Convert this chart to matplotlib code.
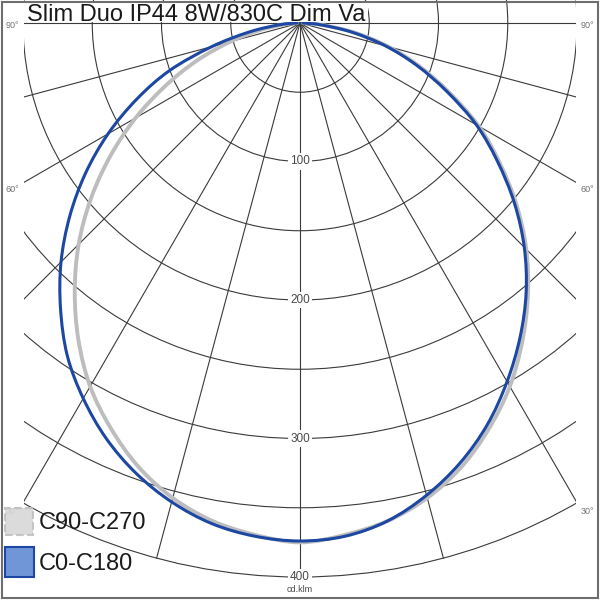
import numpy as np
import matplotlib
matplotlib.use('Agg')
import matplotlib.pyplot as plt
from matplotlib.patches import Circle, Rectangle, PathPatch
from matplotlib.path import Path

plt.rcParams['font.family'] = ['Liberation Sans', 'DejaVu Sans']

title = 'Slim Duo IP44 8W/830C Dim Va'
unit_label = 'cd.klm'

# gamma angles (deg from nadir) and intensities in cd/klm
angles = [0, 5, 10, 15, 20, 25, 30, 35, 40, 45, 50, 55, 60, 65, 70, 75, 80, 85, 90]
c0 = [374, 372, 365, 353, 338, 320, 299, 277, 254, 229, 202, 174, 147, 117, 90, 64, 38, 15, 2]
c180 = [374, 372, 367, 358, 346, 331, 313, 293, 269, 244, 217, 189, 160, 130, 100, 66, 37, 15, 2]
c90 = [375, 371, 365, 355, 341, 323, 303, 280, 256, 231, 204, 176, 149, 119, 92, 66, 40, 16, 2]
c270 = [375, 371, 365, 355, 341, 323, 303, 279, 253, 226, 197, 167, 137, 107, 79, 52, 29, 11, 2]

ring_values = [50, 100, 150, 200, 250, 300, 350, 400]
ring_labels = [100, 200, 300, 400]
grid_angles = [-90, -75, -60, -45, -30, -15, 0, 15, 30, 45, 60, 75, 90]
angle_labels = [90, 60, 30]

legend_names = ['C90-C270', 'C0-C180']


def curve_points(ang, right_vals, left_vals):
    a = np.radians(ang)
    r = np.array(right_vals, dtype=float)
    l = np.array(left_vals, dtype=float)
    x = np.concatenate([-(l * np.sin(a))[::-1], (r * np.sin(a))[1:]])
    y = np.concatenate([-(l * np.cos(a))[::-1], -(r * np.cos(a))[1:]])
    return np.column_stack([x, y])


def smooth_path(pts):
    # Catmull-Rom through the points, drawn as cubic bezier segments
    p = np.vstack([pts[0], pts, pts[-1]])
    verts = [pts[0]]
    codes = [Path.MOVETO]
    for i in range(1, len(p) - 2):
        c1 = p[i] + (p[i + 1] - p[i - 1]) / 6.0
        c2 = p[i + 1] - (p[i + 2] - p[i]) / 6.0
        verts += [c1, c2, p[i + 1]]
        codes += [Path.CURVE4] * 3
    return Path(verts, codes)


def plot_polar_diagram():
    fig = plt.figure(figsize=(6, 6), dpi=100)
    ax = fig.add_axes([0, 0, 1, 1])
    ax.set_xlim(-216.6, 216.6)
    ax.set_ylim(-416.6, 16.6)
    ax.axis('off')

    grid_col = '#3a3a3a'
    clip = Rectangle((-199, -440), 398, 480, transform=ax.transData)

    # grid rings and rays
    for r in ring_values:
        c = Circle((0, 0), r, fill=False, lw=0.8, ec=grid_col, zorder=1)
        ax.add_patch(c)
        c.set_clip_path(clip)
    for g in grid_angles:
        a = np.radians(g)
        ln, = ax.plot([0, 400 * np.sin(a)], [0, -400 * np.cos(a)], color=grid_col, lw=0.8, zorder=1)
        ln.set_clip_path(clip)

    for r in ring_labels:
        ax.text(0, -r, str(r), ha='center', va='center', fontsize=8.5, color='#4a4a4a', zorder=3,
                bbox=dict(fc='white', ec='none', pad=1.5))
    ax.text(0, -409, unit_label, ha='center', va='center', fontsize=6.5, color='#4a4a4a', zorder=3)

    # curves: gray C90-C270 below, blue C0-C180 on top
    gray_path = smooth_path(curve_points(angles, c90, c270))
    ax.add_patch(PathPatch(gray_path, fill=False, ec='#bdbdbd', lw=2.8, zorder=4, capstyle='round'))
    blue_path = smooth_path(curve_points(angles, c0, c180))
    ax.add_patch(PathPatch(blue_path, fill=False, ec='#1c47a3', lw=2.2, zorder=5, capstyle='round'))

    # angle labels at the sides (pixel rows)
    label_rows = {90: 25, 60: 190, 30: 512}
    for g in angle_labels:
        yf = 1 - label_rows[g] / 600
        fig.text(12 / 600, yf, '%d°' % g, ha='center', va='center', fontsize=6.5, color='#707070')
        fig.text(587 / 600, yf, '%d°' % g, ha='center', va='center', fontsize=6.5, color='#707070')

    # title box
    fig.patches.append(Rectangle((24 / 600, 1 - 22 / 600), 344 / 600, 20 / 600, transform=fig.transFigure,
                                 fc='white', ec='none', zorder=6))
    fig.text(27 / 600, 1 - 21 / 600, title, ha='left', va='baseline', fontsize=17, color='#1a1a1a', zorder=7)

    # legend
    fig.patches.append(Rectangle((5 / 600, 1 - 535 / 600), 28 / 600, 27 / 600, transform=fig.transFigure,
                                 fc='#d8d8d8', ec='#c0c0c0', lw=1.5, ls='--', alpha=0.9, zorder=6))
    fig.patches.append(Rectangle((5 / 600, 1 - 577 / 600), 29 / 600, 30 / 600, transform=fig.transFigure,
                                 fc='#7196d8', ec='#1c47a3', lw=1.5, zorder=6))
    fig.text(39 / 600, 1 - 529 / 600, legend_names[0], ha='left', va='baseline', fontsize=17, color='#1a1a1a')
    fig.text(39 / 600, 1 - 570 / 600, legend_names[1], ha='left', va='baseline', fontsize=17, color='#1a1a1a')

    # outer frame
    fig.patches.append(Rectangle((2 / 600, 2 / 600), 596 / 600, 596 / 600, transform=fig.transFigure,
                                 fill=False, ec='#6e6e6e', lw=1.5, zorder=10))

    fig.savefig('out.png', dpi=100, facecolor='white')


if __name__ == '__main__':
    plot_polar_diagram()
